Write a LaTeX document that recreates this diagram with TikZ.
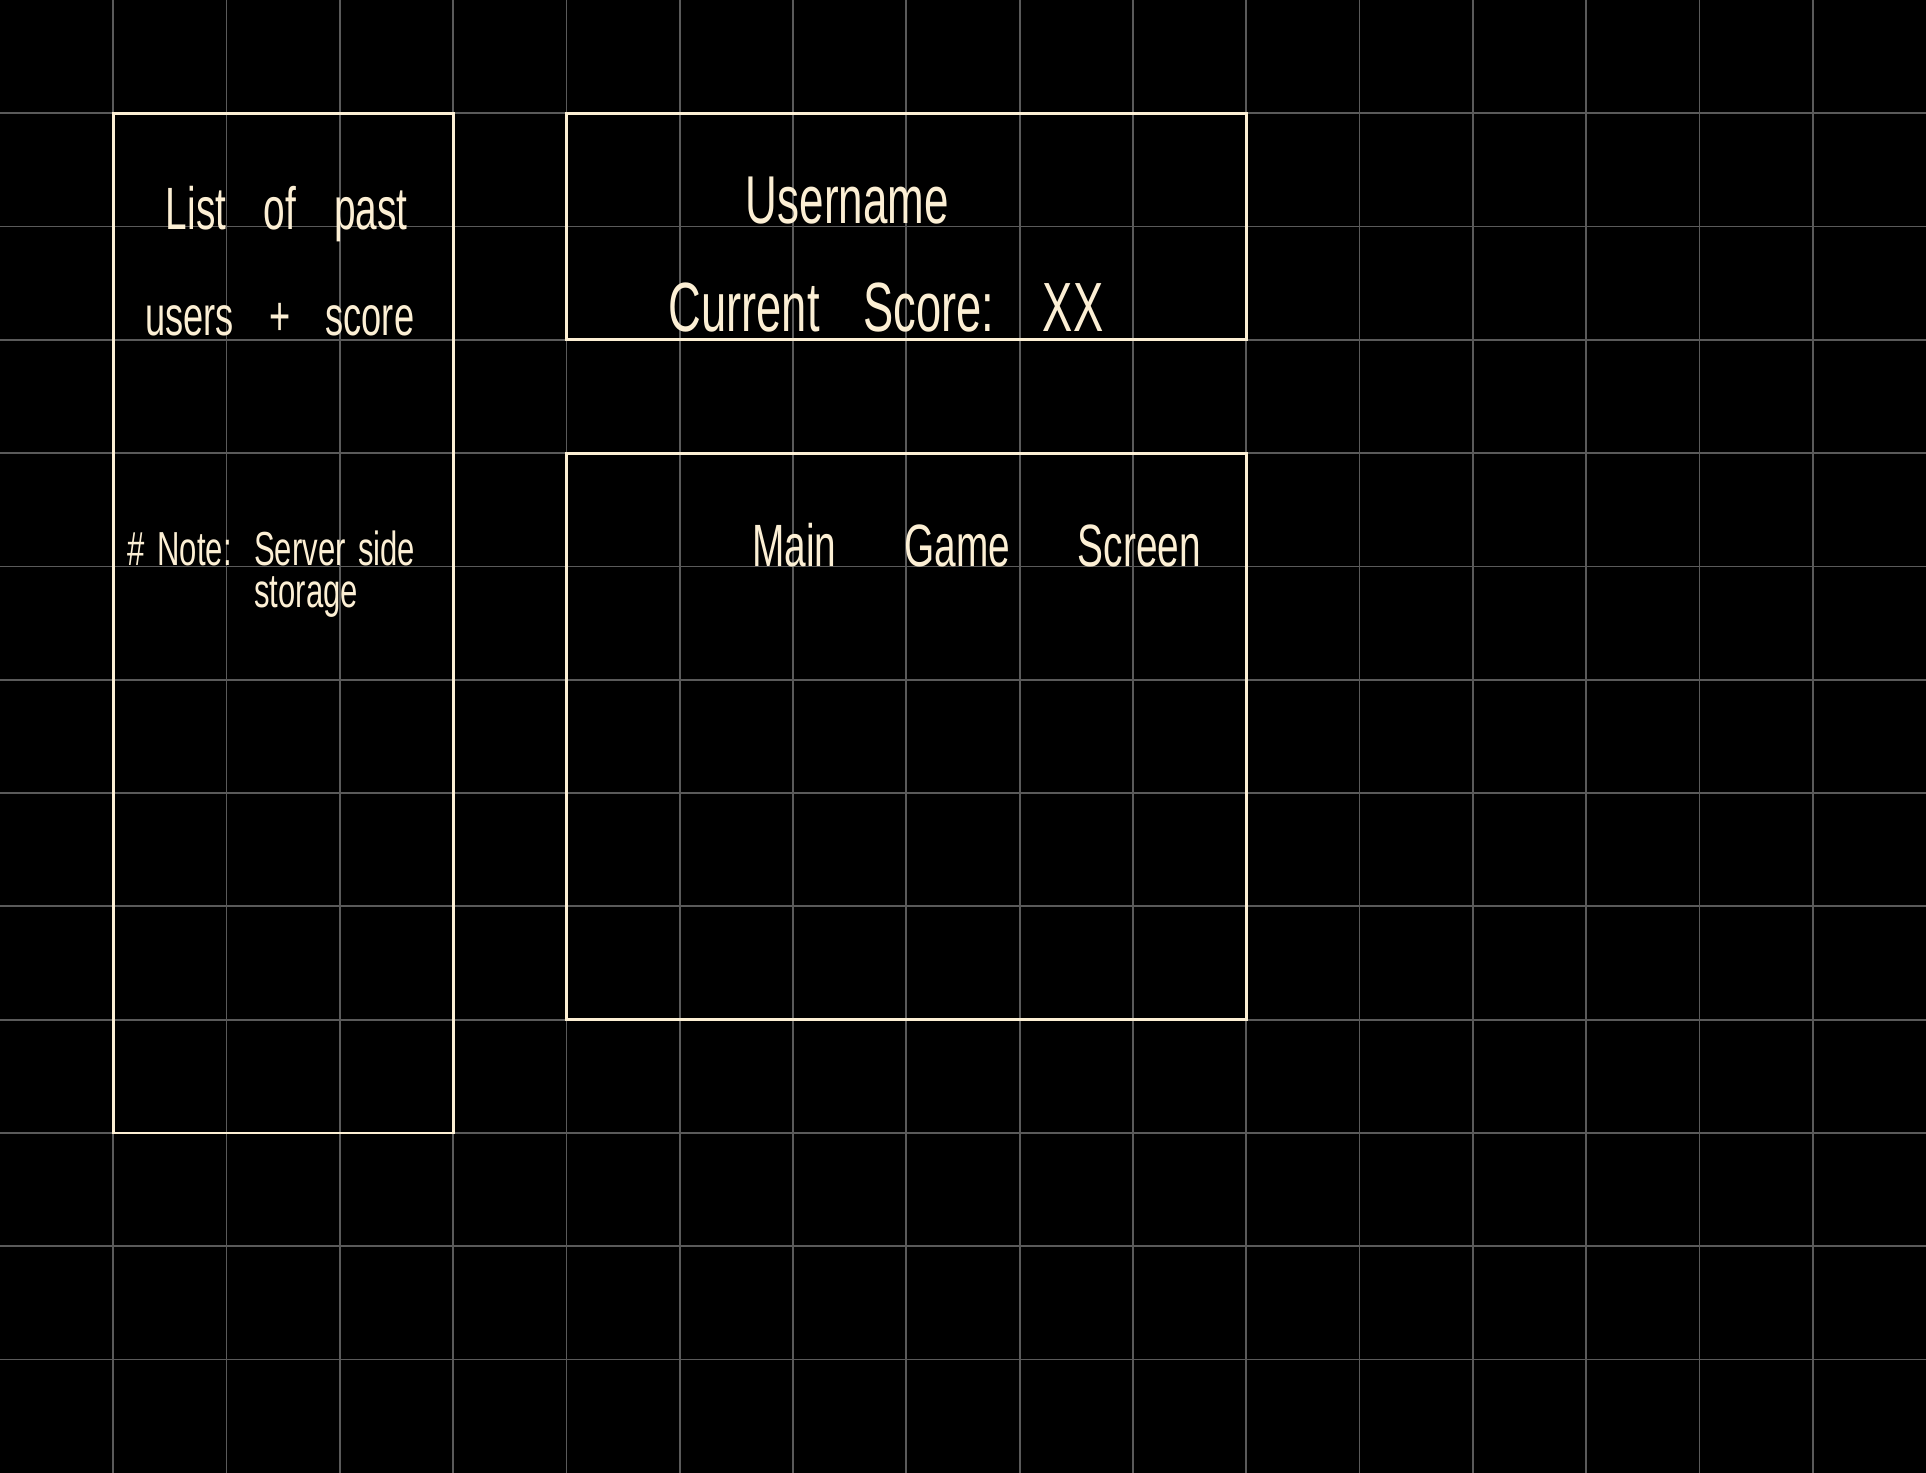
\documentclass[tikz,border=0pt]{standalone}
\usepackage{fontspec}
\usepackage{tikz}
\usetikzlibrary{positioning}
\newfontfamily\handfont[FakeStretch=0.65, WordSpace=3.5]{Liberation Sans}
\newcommand{\handsize}[1]{\handfont\fontsize{#1}{#1}\selectfont}
\definecolor{mkcream}{HTML}{FCEFD4}
\definecolor{mkgrid}{HTML}{5A5A5A}

\begin{document}
\begin{tikzpicture}[hand/.style={text=mkcream, inner sep=0pt, anchor=base},
                    panel/.style={draw=mkcream, line width=0.7pt}]
          % sheet
          \fill[black] (0,0) rectangle (17,13);
          \useasboundingbox (0,0) rectangle (17,13);
          \foreach \x in {1,...,16} \draw[mkgrid, line width=0.45pt] (\x,0)--(\x,13);
          \foreach \y in {1,...,12} \draw[mkgrid, line width=0.45pt] (0,\y)--(17,\y);
          % scoreboard
          \draw[panel] (1,3) rectangle (4,12);
          \node[hand, font=\handsize{15}] (pastlist) at (2.53,10.97) {List of past};
          \node[hand, font=\handsize{14}] (pastscore) at (2.47,10.04) {users + score};
          \node[hand, anchor=base west, font={\handsize{12}\spaceskip=.11cm\relax}] (servernote) at (1.12,8.01)
            {\begin{tabular}[t]{@{}l@{\hspace{.2cm}}l@{}}\# Note: & Server side\\[-1.5pt] & storage\end{tabular}};
          % header
          \draw[panel] (5,10) rectangle (11,12);
          \node[hand, font=\handsize{17}] (username) at (7.48,11.03) {Username};
          \node[hand, font=\handsize{17.5}] (curscore) at (7.82,10.07) {Current Score: XX};
          % game
          \draw[panel] (5,4) rectangle (11,9);
          \node[hand, font={\handsize{15}\spaceskip=.6cm\relax}] (gamescreen) at (8.62,8.0) {Main Game Screen};
        \end{tikzpicture}
\end{document}
